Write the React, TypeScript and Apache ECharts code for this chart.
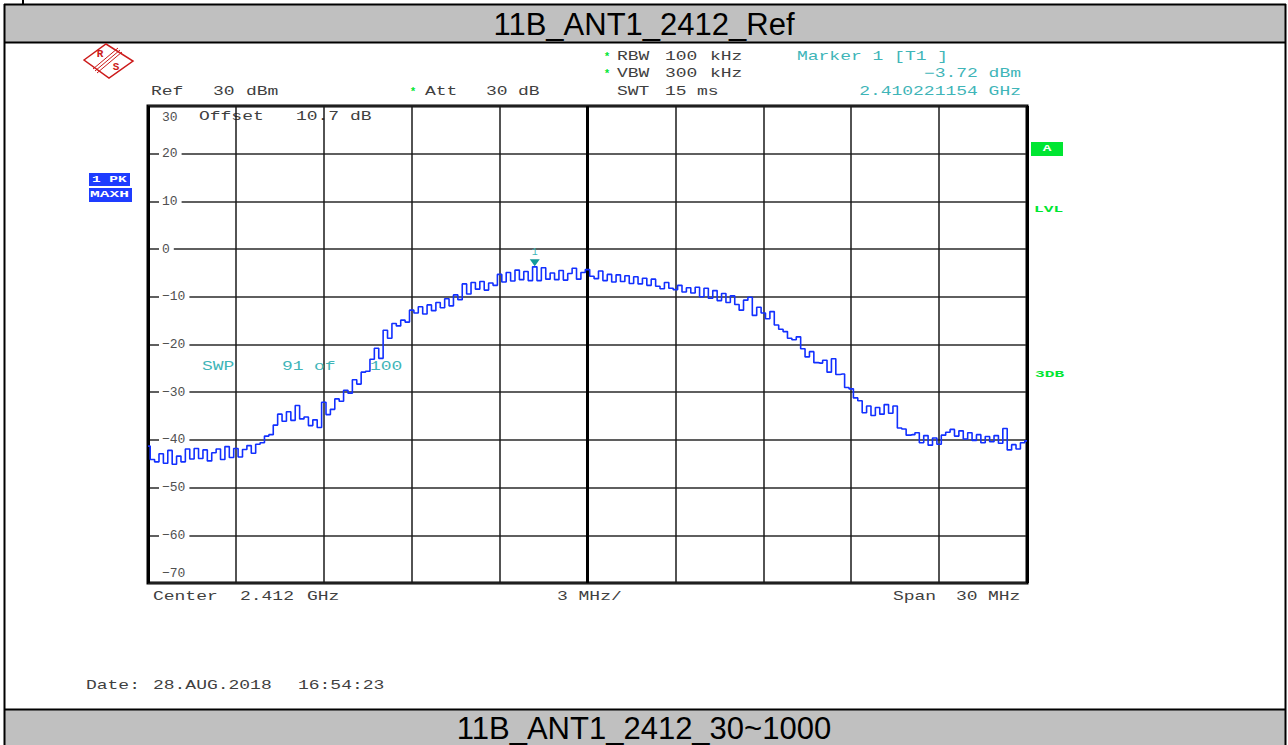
import React, { useEffect, useRef } from "react";
import * as echarts from "echarts";

// ---- data ----
const TITLE_TOP = "11B_ANT1_2412_Ref";
const TITLE_BOTTOM = "11B_ANT1_2412_30~1000";
const SPAN_START_MHZ = -15; // offset from centre 2.412 GHz
const SWEEP_STEP_MHZ = 0.15;
const X_MIN = -15;
const X_MAX = 15;
const X_DIV = 3;
const Y_MIN = -70;
const Y_MAX = 30;
const Y_DIV = 10;
const traceDbm = [
  -41.3, -44.1, -44.6, -42.9, -44.9, -42.2, -45.1, -43.4, -44.6, -41.9,
  -44.0, -41.8, -43.9, -42.1, -44.4, -42.7, -41.9, -44.1, -41.4, -43.7,
  -41.8, -43.6, -42.0, -41.2, -42.8, -40.9, -40.6, -39.2, -38.9, -36.9,
  -34.6, -36.1, -34.1, -35.9, -32.8, -35.6, -35.2, -37.0, -35.8, -37.4,
  -32.1, -34.7, -33.6, -31.4, -31.9, -29.6, -30.2, -27.4, -28.3, -25.8,
  -25.6, -23.1, -20.8, -22.9, -17.0, -18.7, -15.6, -16.1, -14.9, -15.3,
  -12.8, -13.4, -12.1, -13.6, -11.7, -12.9, -11.2, -12.3, -10.4, -11.9,
  -9.6, -10.6, -7.3, -9.4, -7.0, -8.4, -6.8, -8.6, -7.1, -7.6,
  -5.3, -6.9, -4.9, -6.7, -4.4, -6.4, -4.7, -6.6, -3.72, -6.6,
  -3.9, -6.3, -5.0, -6.4, -4.5, -6.5, -5.1, -4.0, -6.3, -4.9,
  -4.3, -5.7, -6.2, -4.6, -6.6, -5.3, -6.9, -5.4, -6.8, -5.6,
  -7.2, -5.8, -7.3, -6.1, -7.6, -6.3, -7.8, -8.3, -7.0, -8.2,
  -8.5, -7.6, -9.0, -8.1, -9.2, -8.0, -10.0, -8.2, -10.3, -8.7,
  -10.8, -9.3, -11.2, -9.8, -11.6, -12.8, -10.7, -10.1, -13.9, -12.2,
  -13.4, -14.6, -13.1, -15.9, -16.8, -17.3, -18.7, -19.0, -18.4, -20.9,
  -22.6, -21.5, -23.8, -23.9, -23.3, -25.8, -23.0, -26.3, -26.2, -29.0,
  -29.3, -31.2, -31.8, -34.3, -32.9, -34.9, -33.2, -34.6, -32.6, -34.4,
  -32.9, -37.5, -37.7, -39.0, -38.9, -38.5, -40.6, -39.1, -41.1, -39.6,
  -40.9, -39.0, -38.4, -37.8, -39.2, -38.1, -39.8, -38.5, -40.1, -38.9,
  -40.6, -39.3, -40.4, -39.1, -40.7, -37.6, -42.1, -41.0, -41.9, -40.6,
  -40.2,
];
const MARKER_INDEX = 88;
const MARKER_LABEL = "1";

const MONO = "'Liberation Mono', 'DejaVu Sans Mono', monospace";
const SANS = "'Liberation Sans', Arial, sans-serif";
const GRAY = "#404040";
const CYAN = "#3fb5b8";
const GREEN = "#00e632";
const BLUE = "#1e3cff";

const txt = (x: number, y: number, text: string, fill: string, o: any = {}) => ({
  type: "text",
  x,
  y,
  scaleX: o.scaleX ?? 1.5,
  z: o.z ?? 10,
  silent: true,
  style: {
    text,
    fill,
    fontSize: o.size ?? 12,
    fontFamily: o.family ?? MONO,
    fontWeight: o.weight ?? "normal",
    align: o.align ?? "left",
    textAlign: o.align ?? "left",
    verticalAlign: "middle",
    textVerticalAlign: "middle",
  },
});

const line = (x1: number, y1: number, x2: number, y2: number, w: number, c = "#000", z = 10) => ({
  type: "line",
  z,
  silent: true,
  shape: { x1, y1, x2, y2 },
  style: { stroke: c, lineWidth: w },
});

export default function App() {
  const ref = useRef<HTMLDivElement>(null);
  useEffect(() => {
    if (!ref.current) return;
    const chart = echarts.init(ref.current, null, { renderer: "svg" });
    const data = traceDbm.map((v, i) => [SPAN_START_MHZ + i * SWEEP_STEP_MHZ, v]);
    const fmt = (v: number) => {
      const s = v < 0 ? "\u2212" + Math.abs(v) : String(v);
      if (v === Y_MAX) return `{top|${s}}`;
      if (v === Y_MIN) return `{bot|${s}}`;
      return `{mid|${s}}`;
    };
    const labelFont = { color: "#505050", fontSize: 13, fontFamily: MONO };
    const RED = "#cc1a1a";
    const graphics: any[] = [
      // page frame
      line(23, 0, 23, 4, 2),
      { type: "rect", z: 1, silent: true, shape: { x: 5, y: 5, width: 1280, height: 37 }, style: { fill: "#c0c0c0" } },
      { type: "rect", z: 1, silent: true, shape: { x: 5, y: 710, width: 1280, height: 40 }, style: { fill: "#c0c0c0" } },
      line(4, 4.5, 1286, 4.5, 2),
      line(4.5, 4, 4.5, 745, 2),
      line(1285.5, 4, 1285.5, 745, 2),
      line(4, 42.5, 1286, 42.5, 2),
      line(4, 709.5, 1286, 709.5, 2),
      txt(644, 24, TITLE_TOP, "#000", { family: SANS, size: 31, scaleX: 1, align: "center" }),
      txt(644, 728, TITLE_BOTTOM, "#000", { family: SANS, size: 31, scaleX: 1, align: "center" }),
      // R&S logo
      { type: "polygon", z: 10, silent: true, shape: { points: [[84, 60], [106, 44], [133, 61], [109, 78]] }, style: { fill: "none", stroke: RED, lineWidth: 1.5 } },
      line(95, 71, 120, 50, 1, RED),
      line(97, 73, 122, 52, 1, RED),
      line(93, 69, 118, 48, 1, RED),
      txt(100, 54, "R", RED, { size: 11, weight: "bold", scaleX: 1, align: "center" }),
      txt(116, 67, "S", RED, { size: 11, weight: "bold", scaleX: 1, align: "center" }),
      // header
      txt(151, 92, "Ref", GRAY),
      txt(213, 92, "30", GRAY),
      txt(246, 92, "dBm", GRAY),
      txt(413, 92, "*", GREEN, { scaleX: 1, size: 11, weight: "bold", align: "center" }),
      txt(425, 92, "Att", GRAY),
      txt(486, 92, "30", GRAY),
      txt(518, 92, "dB", GRAY),
      txt(607, 57, "*", GREEN, { scaleX: 1, size: 11, weight: "bold", align: "center" }),
      txt(617, 57, "RBW", GRAY),
      txt(665, 57, "100", GRAY),
      txt(710, 57, "kHz", GRAY),
      txt(607, 74, "*", GREEN, { scaleX: 1, size: 11, weight: "bold", align: "center" }),
      txt(617, 74, "VBW", GRAY),
      txt(665, 74, "300", GRAY),
      txt(710, 74, "kHz", GRAY),
      txt(617, 92, "SWT", GRAY),
      txt(665, 92, "15", GRAY),
      txt(697, 92, "ms", GRAY),
      txt(797, 57, "Marker 1 [T1 ]", CYAN),
      txt(1021, 74, "\u22123.72 dBm", CYAN, { align: "right" }),
      txt(1021, 92, "2.410221154 GHz", CYAN, { align: "right" }),
      // inside plot
      txt(199, 117, "Offset", GRAY, { z: 0 }),
      txt(296, 117, "10.7 dB", GRAY, { z: 0 }),
      txt(202, 367, "SWP", CYAN, { z: 1 }),
      txt(282, 367, "91", CYAN, { z: 1 }),
      txt(314, 367, "of", CYAN, { z: 1 }),
      txt(370, 367, "100", CYAN, { z: 1 }),
      // left trace labels
      { type: "rect", z: 10, silent: true, shape: { x: 89, y: 173, width: 41, height: 13 }, style: { fill: BLUE } },
      txt(92, 179.5, "1 PK", "#fff", { size: 9, weight: "bold", scaleX: 1.6 }),
      { type: "rect", z: 10, silent: true, shape: { x: 89, y: 188, width: 43, height: 14 }, style: { fill: BLUE } },
      txt(90, 195, "MAXH", "#fff", { size: 9, weight: "bold", scaleX: 1.8 }),
      // right labels
      { type: "rect", z: 10, silent: true, shape: { x: 1031, y: 142, width: 32, height: 14 }, style: { fill: GREEN } },
      txt(1047, 149, "A", "#fff", { size: 9, weight: "bold", scaleX: 1.6, align: "center" }),
      txt(1034, 210, "LVL", GREEN, { size: 9, weight: "bold", scaleX: 1.8 }),
      txt(1035, 375, "3DB", GREEN, { size: 9, weight: "bold", scaleX: 1.8 }),
      // footer of plot
      txt(153, 597, "Center", GRAY),
      txt(240, 597, "2.412", GRAY),
      txt(307, 597, "GHz", GRAY),
      txt(557, 597, "3 MHz/", GRAY),
      txt(893, 597, "Span", GRAY),
      txt(956, 597, "30", GRAY),
      txt(988, 597, "MHz", GRAY),
      txt(86, 686, "Date:", GRAY),
      txt(153, 686, "28.AUG.2018", GRAY),
      txt(298, 686, "16:54:23", GRAY),
    ];

    const option: any = {
      animation: false,
      backgroundColor: "#fff",
      grid: {
        left: 148,
        top: 106,
        right: 261,
        bottom: 162,
        show: true,
        borderColor: "#000",
        borderWidth: 3,
        backgroundColor: "transparent",
      },
      xAxis: [
        {
          type: "value",
          min: X_MIN,
          max: X_MAX,
          interval: X_DIV,
          axisLine: { show: false },
          axisTick: { show: false },
          axisLabel: { show: false },
          splitLine: { show: true, lineStyle: { color: "#1a1a1a", width: 1.5 } },
        },
        {
          type: "value",
          min: X_MIN,
          max: X_MAX,
          interval: X_MAX,
          axisLine: { show: false },
          axisTick: { show: false },
          axisLabel: { show: false },
          splitLine: { show: true, lineStyle: { color: "#000", width: 3 } },
        },
      ],
      yAxis: [
        {
          type: "value",
          min: Y_MIN,
          max: Y_MAX,
          interval: Y_DIV,
          axisLine: { show: false },
          axisTick: { show: false },
          axisLabel: { show: false },
          splitLine: { show: true, lineStyle: { color: "#2a2a2a", width: 1.5 } },
        },
        {
          type: "value",
          position: "left",
          min: Y_MIN,
          max: Y_MAX,
          interval: Y_DIV,
          z: 1,
          axisLine: { show: false },
          axisTick: { show: false },
          splitLine: { show: false },
          axisLabel: {
            inside: true,
            margin: 11,
            formatter: fmt,
            rich: {
              mid: { ...labelFont, backgroundColor: "#fff", padding: [1, 4, 1, 3] },
              top: { ...labelFont, padding: [22, 0, 0, 3] },
              bot: { ...labelFont, padding: [0, 0, 20, 3] },
            },
          },
        },
      ],
      series: [
        {
          type: "line",
          xAxisIndex: 0,
          yAxisIndex: 0,
          data,
          step: "middle",
          showSymbol: false,
          symbol: "none",
          z: 2,
          lineStyle: { color: "#1230ff", width: 1.6 },
          markPoint: {
            silent: true,
            data: [
              {
                coord: data[MARKER_INDEX],
                symbol: "triangle",
                symbolRotate: 180,
                symbolSize: [10, 7],
                symbolOffset: [0, -4],
                itemStyle: { color: "#139a9a" },
                label: {
                  show: true,
                  formatter: MARKER_LABEL,
                  position: "top",
                  distance: 2,
                  color: CYAN,
                  fontSize: 10,
                  fontFamily: MONO,
                },
              },
            ],
          },
        },
      ],
      graphic: { elements: graphics },
    };
    chart.setOption(option);
    return () => chart.dispose();
  }, []);
  return (
    <div
      ref={ref}
      style={{ position: "fixed", left: 0, top: 0, width: 1288, height: 745, background: "#fff" }}
    />
  );
}
